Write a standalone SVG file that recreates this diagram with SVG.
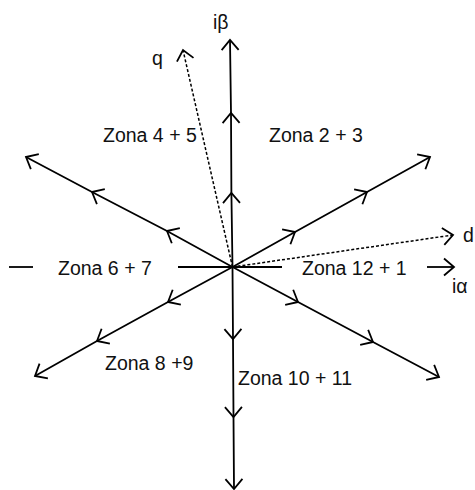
<svg xmlns="http://www.w3.org/2000/svg" width="475" height="490" viewBox="0 0 475 490">
<defs>
<marker id="chev" markerUnits="userSpaceOnUse" markerWidth="30" markerHeight="30" viewBox="-15 -15 30 30" refX="0" refY="0" orient="auto" overflow="visible">
<path d="M -10,-8.5 L 0,0 L -10,8.5" fill="none" stroke="#000" stroke-width="1.8"/>
</marker>
</defs>
<style>
.ln{fill:none;stroke:#000;stroke-width:1.8}
.ar{marker-mid:url(#chev);marker-end:url(#chev)}
.dot{fill:none;stroke:#000;stroke-width:1.5;stroke-dasharray:3 2;marker-end:url(#chev)}
text{font-family:"Liberation Sans",Arial,sans-serif;font-size:19.5px;fill:#111}
</style>
<rect width="475" height="490" fill="#fff"/>
<g id="connectors">
<polyline class="ln ar" points="232.5,267 231.4,193 231,113 230,40"/>
<polyline class="ln ar" points="232.5,267 233,339 233.5,417 234,489"/>
<polyline class="ln ar" points="232.5,267 295,232 367,192 430,157"/>
<polyline class="ln ar" points="232.5,267 298,302 373,342 439,377"/>
<polyline class="ln ar" points="232.5,267 167,231 92,192 26,157"/>
<polyline class="ln ar" points="232.5,267 168,302 97,341 35,376"/>
<line class="ln" x1="9" y1="267" x2="33" y2="267"/>
<line class="ln" x1="178" y1="267" x2="282" y2="267"/>
<line class="ln" x1="427" y1="267" x2="454" y2="267" marker-end="url(#chev)"/>
<line class="dot" x1="232.5" y1="267" x2="453" y2="235"/>
<line class="dot" x1="232.5" y1="267" x2="183" y2="50"/>
</g>
<g id="zona45"><text x="103" y="142">Zona 4 + 5</text></g>
<g id="zona23"><text x="269" y="142">Zona 2 + 3</text></g>
<g id="zona67"><text x="58" y="275">Zona 6 + 7</text></g>
<g id="zona121"><text x="302" y="275">Zona 12 + 1</text></g>
<g id="zona89"><text x="105" y="370">Zona 8 +9</text></g>
<g id="zona1011"><text x="238" y="385">Zona 10 + 11</text></g>
<g id="ibeta"><text x="213" y="29">iβ</text></g>
<g id="q"><text x="152" y="65">q</text></g>
<g id="d"><text x="463" y="242">d</text></g>
<g id="ialpha"><text x="452" y="293">iα</text></g>
</svg>
